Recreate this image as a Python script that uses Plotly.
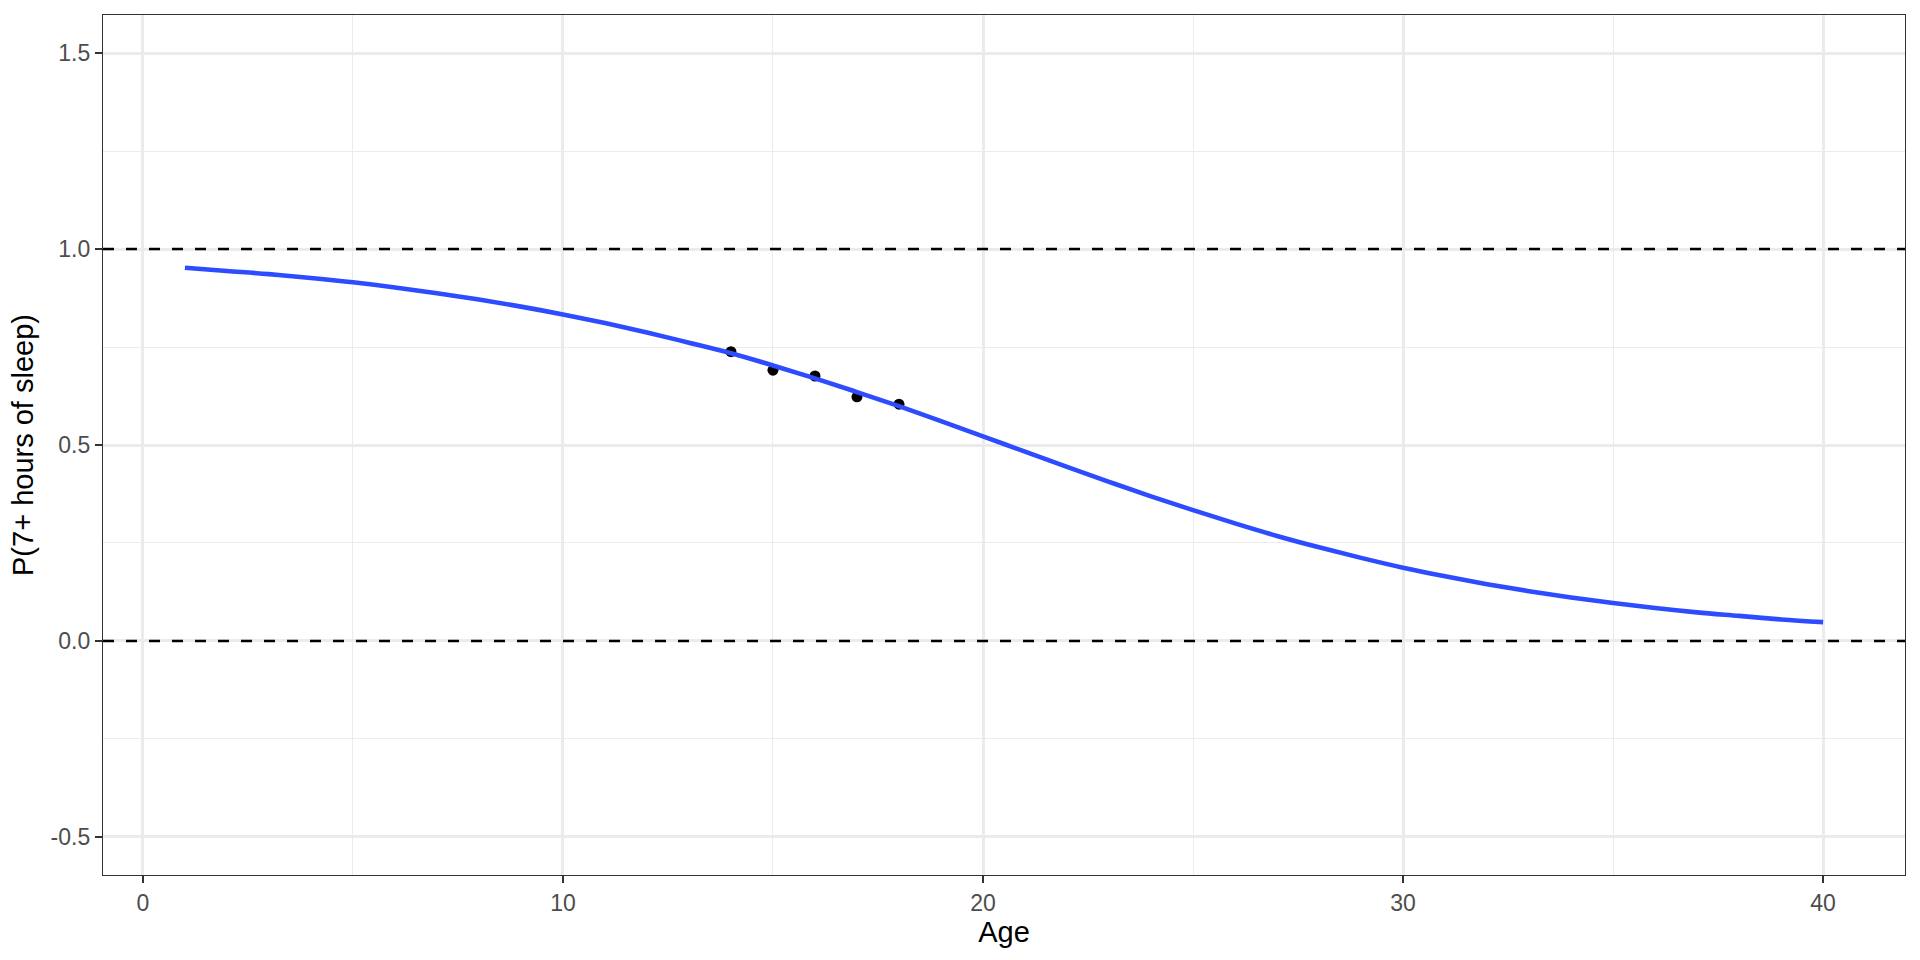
import plotly.graph_objects as go

# Observed proportions
obs_age = [14, 15, 16, 17, 18]
obs_p = [0.738, 0.691, 0.676, 0.623, 0.604]

# Fitted curve
fit_age = list(range(1, 41))
fit_p = [0.952, 0.944, 0.936, 0.926, 0.915, 0.902, 0.887, 0.871, 0.853, 0.833,
         0.811, 0.787, 0.761, 0.734, 0.703, 0.670, 0.635, 0.599, 0.561, 0.522,
         0.483, 0.444, 0.406, 0.369, 0.334, 0.300, 0.268, 0.239, 0.212, 0.187,
         0.165, 0.145, 0.127, 0.111, 0.097, 0.084, 0.073, 0.064, 0.055, 0.048]

ref_lines = [0.0, 1.0]
x_ticks = [0, 10, 20, 30, 40]
y_ticks = [-0.5, 0.0, 0.5, 1.0, 1.5]
y_tick_text = ["-0.5", "0.0", "0.5", "1.0", "1.5"]

fig = go.Figure()
fig.add_trace(go.Scatter(x=obs_age, y=obs_p, mode="markers",
                         marker=dict(color="black", size=11),
                         showlegend=False, hoverinfo="x+y"))
fig.add_trace(go.Scatter(x=fit_age, y=fit_p, mode="lines", line_shape="spline",
                         line=dict(color="#2E4CFF", width=4.6),
                         showlegend=False, hoverinfo="x+y"))
for y in ref_lines:
    fig.add_shape(type="line", xref="paper", x0=0, x1=1, yref="y", y0=y, y1=y,
                  line=dict(color="black", width=2.3, dash="11px,12px"))

axis_common = dict(
    showline=True, mirror=True, linecolor="#333333", linewidth=1.3,
    ticks="outside", ticklen=7, tickwidth=2, tickcolor="#333333",
    showgrid=True, gridcolor="#EBEBEB", gridwidth=2.5, zeroline=False,
    tickfont=dict(family="Liberation Sans, Arial", size=23, color="#4D4D4D"),
    title_font=dict(family="Liberation Sans, Arial", size=29, color="black"),
)

fig.update_layout(
    width=1920, height=960,
    paper_bgcolor="white", plot_bgcolor="white",
    margin=dict(l=103, r=15, t=15, b=85, autoexpand=False),
    xaxis=dict(axis_common, range=[-0.95, 41.95], tickvals=x_ticks,
               title=dict(text="Age", standoff=6),
               minor=dict(showgrid=True, gridcolor="#EBEBEB", gridwidth=1.2, tickvals=[5, 15, 25, 35])),
    yaxis=dict(axis_common, range=[-0.597, 1.597], tickvals=y_ticks, ticktext=y_tick_text,
               title=dict(text="P(7+ hours of sleep)", standoff=8),
               minor=dict(showgrid=True, gridcolor="#EBEBEB", gridwidth=1.2, tickvals=[-0.25, 0.25, 0.75, 1.25])),
)

fig.write_html("out.html", config={"displayModeBar": False},
               post_script="document.body.style.margin='0px';")
